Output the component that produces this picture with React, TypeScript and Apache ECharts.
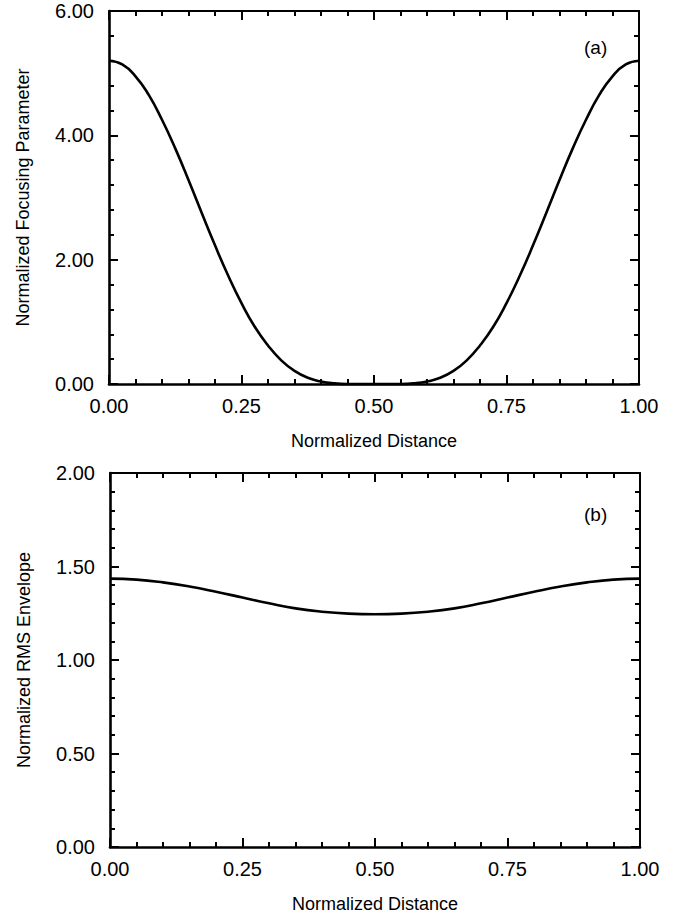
import React, { useEffect, useRef } from "react";
import * as echarts from "echarts";

// Panel (a): normalized focusing parameter vs normalized distance
const distanceA = [
  0, 0.025, 0.05, 0.075, 0.1, 0.125, 0.15, 0.175, 0.2, 0.225, 0.25, 0.275, 0.3, 0.325, 0.35, 0.375, 0.4,
  0.425, 0.45, 0.475, 0.5, 0.525, 0.55, 0.575, 0.6, 0.625, 0.65, 0.675, 0.7, 0.725, 0.75, 0.775, 0.8,
  0.825, 0.85, 0.875, 0.9, 0.925, 0.95, 0.975, 1.0,
];
const focusing = [
  5.2, 5.14, 4.95, 4.65, 4.25, 3.79, 3.28, 2.75, 2.23, 1.74, 1.3, 0.92, 0.62, 0.38, 0.21, 0.1, 0.04,
  0.01, 0.0, 0.0, 0.0, 0.0, 0.0, 0.01, 0.04, 0.1, 0.21, 0.38, 0.62, 0.92, 1.3, 1.74, 2.23,
  2.75, 3.28, 3.79, 4.25, 4.65, 4.95, 5.14, 5.2,
];

// Panel (b): normalized RMS envelope vs normalized distance
const distanceB = [
  0, 0.05, 0.1, 0.15, 0.2, 0.25, 0.3, 0.35, 0.4, 0.45, 0.5, 0.55, 0.6, 0.65, 0.7, 0.75, 0.8, 0.85, 0.9,
  0.95, 1.0,
];
const envelope = [
  1.435, 1.43, 1.415, 1.393, 1.365, 1.334, 1.303, 1.276, 1.258, 1.248, 1.245, 1.248, 1.258, 1.276, 1.303,
  1.334, 1.365, 1.393, 1.415, 1.43, 1.435,
];

const xTicks = { min: 0, max: 1, interval: 0.25 };
const yTicksA = { min: 0, max: 6, interval: 2 };
const yTicksB = { min: 0, max: 2, interval: 0.5 };

const xName = "Normalized Distance";
const yNameA = "Normalized Focusing Parameter";
const yNameB = "Normalized RMS Envelope";

const FONT = "Liberation Sans, Arial, Helvetica, sans-serif";

export default function App() {
  const ref = useRef<HTMLDivElement>(null);

  useEffect(() => {
    if (!ref.current) return;
    const chart = echarts.init(ref.current, null, { renderer: "svg" });

    const fmt = (v: number) => v.toFixed(2);
    const labelStyle = { color: "#000", fontSize: 20, fontFamily: FONT };
    const nameStyle = { color: "#000", fontSize: 18, fontFamily: FONT };

    const mainAxisCommon = (width: number) => ({
      axisLine: { show: true, onZero: false, lineStyle: { color: "#000", width } },
      axisTick: { show: true, inside: true, length: 9, lineStyle: { color: "#000", width: 2 } },
      minorTick: { show: true, splitNumber: 5, length: 5, lineStyle: { color: "#000", width: 2 } },
      splitLine: { show: false },
      minorSplitLine: { show: false },
    });

    const xAxesFor = (gridIndex: number) => [
      {
        type: "value",
        gridIndex,
        position: "bottom",
        ...xTicks,
        ...mainAxisCommon(2.6),
        axisLabel: { ...labelStyle, margin: 12, formatter: fmt, showMinLabel: true, showMaxLabel: true },
        name: xName,
        nameLocation: "middle",
        nameGap: 48,
        nameTextStyle: nameStyle,
      },
      {
        type: "value",
        gridIndex,
        position: "top",
        ...xTicks,
        ...mainAxisCommon(2),
        axisLabel: { show: false },
      },
    ];

    const yAxesFor = (gridIndex: number, ticks: any, name: string) => [
      {
        type: "value",
        gridIndex,
        position: "left",
        ...ticks,
        ...mainAxisCommon(2.6),
        axisLabel: { ...labelStyle, margin: 15, formatter: fmt, showMinLabel: true, showMaxLabel: true },
        name,
        nameLocation: "middle",
        nameGap: 77,
        nameTextStyle: nameStyle,
      },
      {
        type: "value",
        gridIndex,
        position: "right",
        ...ticks,
        ...mainAxisCommon(2),
        axisLabel: { show: false },
      },
    ];

    const lineSeries = (xs: number[], ys: number[], idx: number) => ({
      type: "line",
      xAxisIndex: idx * 2,
      yAxisIndex: idx * 2,
      data: xs.map((x, i) => [x, ys[i]]),
      showSymbol: false,
      smooth: true,
      lineStyle: { color: "#000", width: 2.6 },
      clip: false,
    });

    chart.setOption({
      animation: false,
      backgroundColor: "#fff",
      grid: [
        { left: 109, right: 50, top: 11, height: 373 },
        { left: 110, right: 49, top: 473, height: 374 },
      ],
      xAxis: [...xAxesFor(0), ...xAxesFor(1)],
      yAxis: [...yAxesFor(0, yTicksA, yNameA), ...yAxesFor(1, yTicksB, yNameB)],
      series: [lineSeries(distanceA, focusing, 0), lineSeries(distanceB, envelope, 1)],
      graphic: [
        { type: "text", left: 584, top: 38, style: { text: "(a)", fontSize: 19, fontFamily: FONT, fill: "#000" } },
        { type: "text", left: 584, top: 505, style: { text: "(b)", fontSize: 19, fontFamily: FONT, fill: "#000" } },
      ],
    });

    return () => chart.dispose();
  }, []);

  return (
    <div
      ref={ref}
      style={{ position: "absolute", left: 0, top: 0, width: 689, height: 917, background: "#fff" }}
    />
  );
}
